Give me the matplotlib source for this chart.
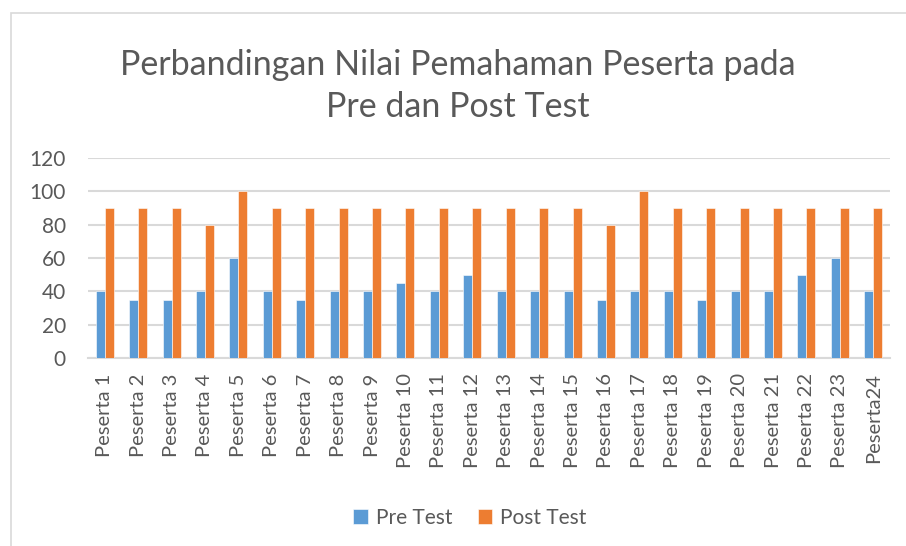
import matplotlib.pyplot as plt
import numpy as np
from matplotlib.patches import Rectangle

# Data
participants = ['Peserta %d' % i for i in range(1, 24)] + ['Peserta24']
pre_test = [40, 35, 35, 40, 60, 40, 35, 40, 40, 45, 40, 50,
            40, 40, 40, 35, 40, 40, 35, 40, 40, 50, 60, 40]
post_test = [90, 90, 90, 80, 100, 90, 90, 90, 90, 90, 90, 90,
             90, 90, 90, 80, 100, 90, 90, 90, 90, 90, 90, 90]
y_ticks = [0, 20, 40, 60, 80, 100, 120]

BLUE = '#5B9BD5'
ORANGE = '#ED7D31'
TEXT = '#595959'
GRID = '#D9D9D9'

plt.rcParams['font.family'] = ['Lato', 'DejaVu Sans']

fig = plt.figure(figsize=(9.06, 5.46), dpi=100)
ax = fig.add_axes([88 / 906, 1 - 358 / 546, 802 / 906, 200 / 546])

# Chart border (Excel-style chart area outline)
fig.patches.append(Rectangle((11 / 906, -0.1), 1.2, 1 - 13 / 546 + 0.1,
                             transform=fig.transFigure, fill=False,
                             edgecolor='#D9D9D9', linewidth=1.2))

x = np.arange(len(participants))
width = 0.27
ax.bar(x - width / 2, pre_test, width, color=BLUE, label='Pre Test',
       edgecolor='white', linewidth=0.4, zorder=3)
ax.bar(x + width / 2, post_test, width, color=ORANGE, label='Post Test',
       edgecolor='white', linewidth=0.4, zorder=3)

ax.set_xlim(-0.5, len(participants) - 0.5)
ax.set_ylim(0, 120)
ax.set_yticks(y_ticks)
ax.yaxis.grid(True, color=GRID, linewidth=1.5, zorder=0)
ax.set_axisbelow(True)

for side in ['top', 'right', 'left']:
    ax.spines[side].set_visible(False)
ax.spines['bottom'].set_color(GRID)
ax.spines['bottom'].set_linewidth(1.5)

ax.set_xticks(x)
ax.set_xticklabels(participants, rotation=90)
ax.tick_params(axis='x', length=0, pad=11, labelsize=14.5, labelcolor=TEXT)
ax.tick_params(axis='y', length=0, pad=16, labelsize=15, labelcolor=TEXT)

fig.text(0.505, 0.843, 'Perbandingan Nilai Pemahaman Peserta pada\nPre dan Post Test',
         ha='center', va='center', fontsize=24.5, color=TEXT, linespacing=1.4)

ax.legend(loc='center', bbox_to_anchor=(470 / 906, 1 - 518 / 546),
          bbox_transform=fig.transFigure, ncol=2, frameon=False,
          fontsize=15, labelcolor=TEXT, handlelength=0.7, handleheight=0.7,
          handletextpad=0.4, columnspacing=1.2)

fig.savefig('out.png', dpi=100)
